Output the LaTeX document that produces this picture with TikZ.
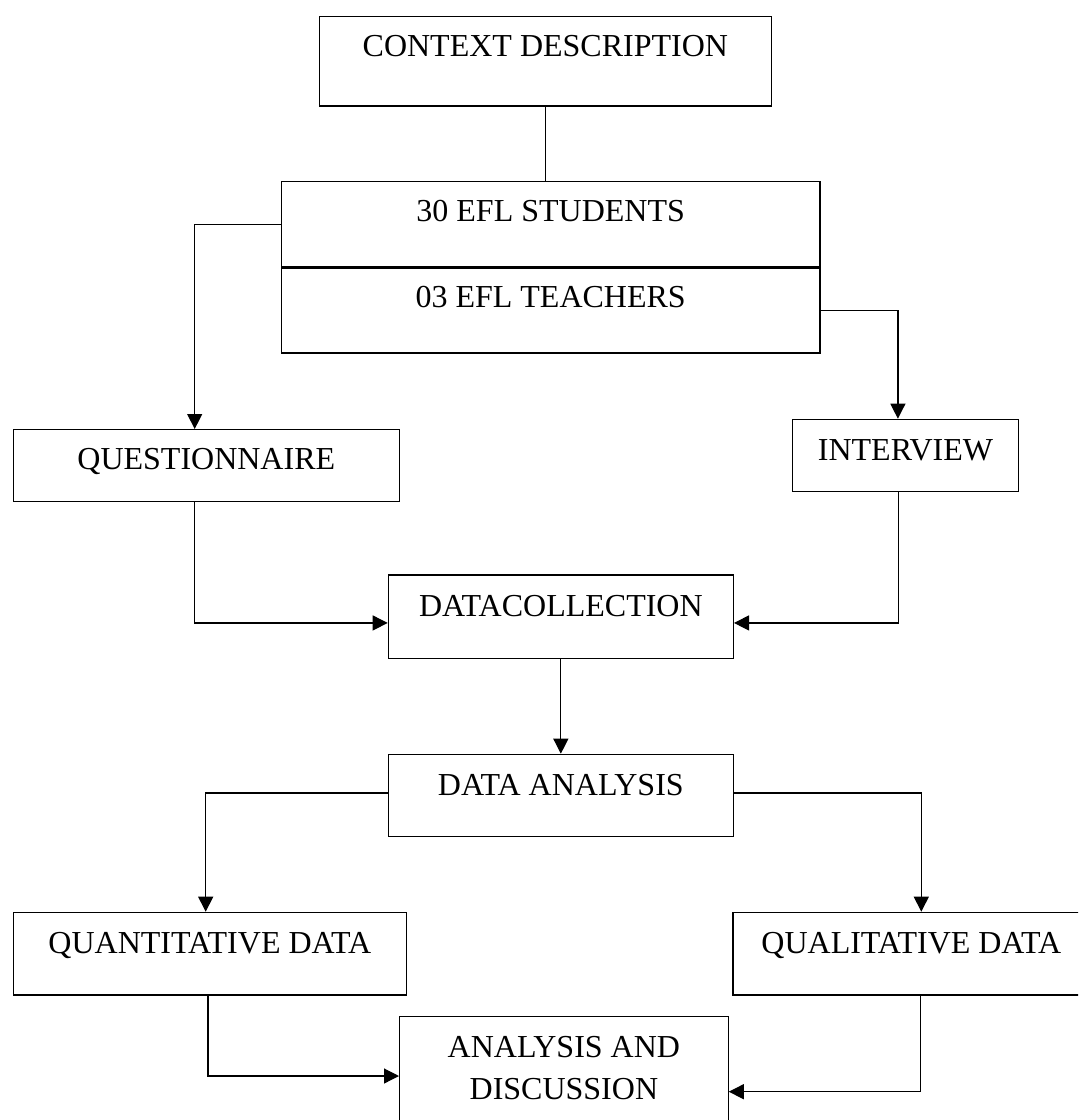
\documentclass[tikz,border=0pt]{standalone}
\usepackage{fontspec}
\setmainfont{Liberation Serif}
\usetikzlibrary{positioning,arrows.meta}

\begin{document}
\begin{tikzpicture}[
			x=0.5pt,
			y=-0.5pt,
			>={Triangle[length=7.5pt,width=7.5pt]},
			box/.style={
				draw,
				line width=0.65pt,
				inner sep=0pt,
				anchor=north west,
				font=\fontsize{16}{21.2}\selectfont
			},
			link/.style={
				line width=0.6pt
			}
			]
			
			\clip (0,0) rectangle (1078,1120);
			
			%%%%%%%%%%%%%%%%%%%%%%%%%%%%%%%%%%%%%%%%%%%%%%%%%%%%%%
			% Nodes
			%%%%%%%%%%%%%%%%%%%%%%%%%%%%%%%%%%%%%%%%%%%%%%%%%%%%%%
			
			\node (context) [box, minimum width=226pt, text height=20.2pt, text depth=24.6pt]
			at (318.7,15.7) {CONTEXT DESCRIPTION};
			
			\node (students) [box, minimum width=269.3pt, text height=19.85pt, text depth=22.65pt]
			at (280.7,181) {30 EFL STUDENTS};
			
			\node (teachers) [box, below=0pt of students, minimum width=269.3pt, text height=20pt, text depth=22.5pt]
			{03 EFL TEACHERS};
			
			\node (questionnaire) [box, minimum width=193.15pt, text height=20pt, text depth=15.85pt]
			at (12.5,429) {QUESTIONNAIRE};
			
			\node (interview) [box, minimum width=113.15pt, text height=20.5pt, text depth=15.5pt]
			at (791.7,418.7) {INTERVIEW};
			
			\node (datacollection) [box, minimum width=172.5pt, text height=21pt, text depth=20.6pt]
			at (387.7,574.3) {DATACOLLECTION};
			
			\node (dataanalysis) [box, minimum width=172.5pt, text height=20.5pt, text depth=20.65pt]
			at (387.7,753.7) {DATA ANALYSIS};
			
			\node (quantitative) [box, minimum width=196.75pt, text height=20.65pt, text depth=20.65pt]
			at (12.5,911.7) {QUANTITATIVE DATA};
			
			\node (qualitative) [box, minimum width=178.35pt, text height=20.65pt, text depth=20.65pt]
			at (732.3,911.7) {QUALITATIVE DATA};
			
			\node (analysis) [box, text width=164.25pt, align=flush center, text height=20.35pt, text depth=46.65pt]
			at (399,1016) {ANALYSIS AND\\DISCUSSION};
			
			%%%%%%%%%%%%%%%%%%%%%%%%%%%%%%%%%%%%%%%%%%%%%%%%%%%%%%
			% Sample and Instruments
			%%%%%%%%%%%%%%%%%%%%%%%%%%%%%%%%%%%%%%%%%%%%%%%%%%%%%%
			
			\draw[link]
			(context.south) -- (context.south |- students.north);
			
			\draw[link,->]
			(students.west) -| ([xshift=-5.8pt]questionnaire.north);
			
			\draw[link,->]
			(teachers.east) -| ([xshift=-3.8pt]interview.north);
			
			%%%%%%%%%%%%%%%%%%%%%%%%%%%%%%%%%%%%%%%%%%%%%%%%%%%%%%
			% Collection and Analysis
			%%%%%%%%%%%%%%%%%%%%%%%%%%%%%%%%%%%%%%%%%%%%%%%%%%%%%%
			
			\draw[link,->]
			([xshift=-5.8pt]questionnaire.south) |- ([yshift=-3.2pt]datacollection.west);
			
			\draw[link,->]
			([xshift=-3.7pt]interview.south) |- ([yshift=-3.2pt]datacollection.east);
			
			\draw[link,->]
			(datacollection) -- (dataanalysis);
			
			\draw[link,->]
			([yshift=1.25pt]dataanalysis.west) -| ([xshift=-2.1pt]quantitative.north);
			
			\draw[link,->]
			([yshift=1.25pt]dataanalysis.east) -| ([xshift=5pt]qualitative.north);
			
			%%%%%%%%%%%%%%%%%%%%%%%%%%%%%%%%%%%%%%%%%%%%%%%%%%%%%%
			% Discussion
			%%%%%%%%%%%%%%%%%%%%%%%%%%%%%%%%%%%%%%%%%%%%%%%%%%%%%%
			
			\draw[link,->]
			([xshift=-1pt]quantitative.south) |- ([yshift=-30pt]analysis.north west);
			
			\draw[link,->]
			([xshift=4.65pt]qualitative.south) |- ([yshift=-37.85pt]analysis.north east);
			
			%%%%%%%%%%%%%%%%%%%%%%%%%%%%%%%%%%%%%%%%%%%%%%%%%%%%%%
			
		\end{tikzpicture}
\end{document}
